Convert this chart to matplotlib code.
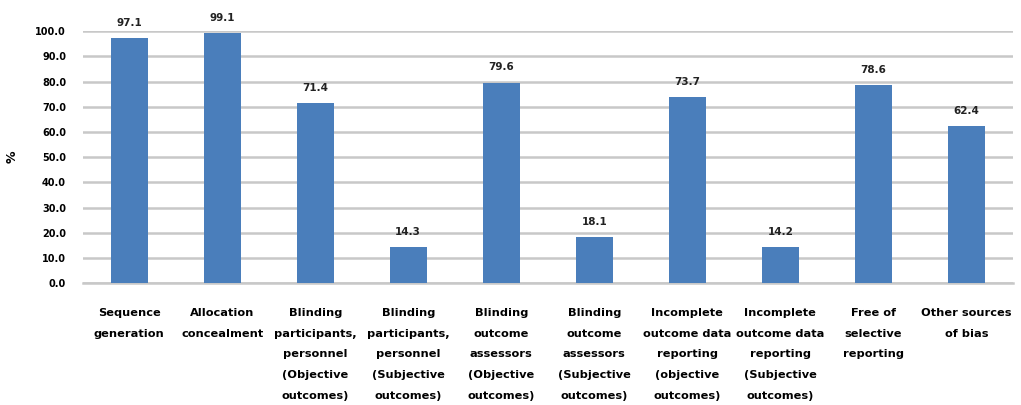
import matplotlib

matplotlib.use("Agg")
import matplotlib.pyplot as plt
import numpy as np

domains = [
    "Sequence\ngeneration",
    "Allocation\nconcealment",
    "Blinding\nparticipants,\npersonnel\n(Objective\noutcomes)",
    "Blinding\nparticipants,\npersonnel\n(Subjective\noutcomes)",
    "Blinding\noutcome\nassessors\n(Objective\noutcomes)",
    "Blinding\noutcome\nassessors\n(Subjective\noutcomes)",
    "Incomplete\noutcome data\nreporting\n(objective\noutcomes)",
    "Incomplete\noutcome data\nreporting\n(Subjective\noutcomes)",
    "Free of\nselective\nreporting",
    "Other sources\nof bias",
]
low_risk_pct = [97.1, 99.1, 71.4, 14.3, 79.6, 18.1, 73.7, 14.2, 78.6, 62.4]
y_ticks = np.arange(0, 101, 10)

BAR_COLOR = "#4a7ebb"
GRID_COLOR = "#c8c8c8"

fig = plt.figure(figsize=(10.21, 4.05), dpi=100)
ax = fig.add_axes([0.081, 0.301, 0.911, 0.622])

x = np.arange(len(domains))
ax.bar(x, low_risk_pct, width=0.4, color=BAR_COLOR, zorder=3)

for xi, v in zip(x, low_risk_pct):
    ax.text(xi, v + 4.0, f"{v:.1f}", ha="center", va="bottom",
            fontsize=7.5, fontweight="bold", color="#222222")

ax.set_xlim(-0.5, len(domains) - 0.5)
ax.set_ylim(0, 100)
ax.set_yticks(y_ticks)
ax.set_yticklabels([f"{t:.1f}" for t in y_ticks], fontsize=7, fontweight="bold")
ax.set_xticks(x)
ax.set_xticklabels(domains, fontsize=8.2, fontweight="bold", linespacing=2.33, va="top")
ax.tick_params(axis="x", length=0, pad=18)
ax.tick_params(axis="y", length=0, pad=12)

ax.yaxis.grid(True, color=GRID_COLOR, linewidth=1.8, zorder=0)
for side in ("top", "right", "left"):
    ax.spines[side].set_visible(False)
ax.spines["bottom"].set_color(GRID_COLOR)
ax.spines["bottom"].set_linewidth(1.8)

ax.set_ylabel("%", fontsize=9, fontweight="bold", labelpad=12)

fig.savefig("out.png", dpi=100)
